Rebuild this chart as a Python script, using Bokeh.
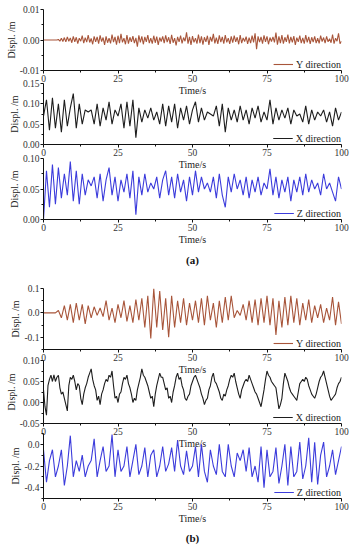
from bokeh.plotting import figure
from bokeh.layouts import column
from bokeh.models import Range1d, FixedTicker, PrintfTickFormatter, Legend, LegendItem
from bokeh.embed import file_html
from bokeh.resources import INLINE

# sample times (s), 1 s step
TIME_S = [0, 1, 2, 3, 4, 5, 6, 7, 8, 9,
          10, 11, 12, 13, 14, 15, 16, 17, 18, 19,
          20, 21, 22, 23, 24, 25, 26, 27, 28, 29,
          30, 31, 32, 33, 34, 35, 36, 37, 38, 39,
          40, 41, 42, 43, 44, 45, 46, 47, 48, 49,
          50, 51, 52, 53, 54, 55, 56, 57, 58, 59,
          60, 61, 62, 63, 64, 65, 66, 67, 68, 69,
          70, 71, 72, 73, 74, 75, 76, 77, 78, 79,
          80, 81, 82, 83, 84, 85, 86, 87, 88, 89,
          90, 91, 92, 93, 94, 95, 96, 97, 98, 99,
          100]

# sample times (s), 0.5 s step
TIME_HALF = [0, 0.5, 1, 1.5, 2, 2.5, 3, 3.5, 4, 4.5,
             5, 5.5, 6, 6.5, 7, 7.5, 8, 8.5, 9, 9.5,
             10, 10.5, 11, 11.5, 12, 12.5, 13, 13.5, 14, 14.5,
             15, 15.5, 16, 16.5, 17, 17.5, 18, 18.5, 19, 19.5,
             20, 20.5, 21, 21.5, 22, 22.5, 23, 23.5, 24, 24.5,
             25, 25.5, 26, 26.5, 27, 27.5, 28, 28.5, 29, 29.5,
             30, 30.5, 31, 31.5, 32, 32.5, 33, 33.5, 34, 34.5,
             35, 35.5, 36, 36.5, 37, 37.5, 38, 38.5, 39, 39.5,
             40, 40.5, 41, 41.5, 42, 42.5, 43, 43.5, 44, 44.5,
             45, 45.5, 46, 46.5, 47, 47.5, 48, 48.5, 49, 49.5,
             50, 50.5, 51, 51.5, 52, 52.5, 53, 53.5, 54, 54.5,
             55, 55.5, 56, 56.5, 57, 57.5, 58, 58.5, 59, 59.5,
             60, 60.5, 61, 61.5, 62, 62.5, 63, 63.5, 64, 64.5,
             65, 65.5, 66, 66.5, 67, 67.5, 68, 68.5, 69, 69.5,
             70, 70.5, 71, 71.5, 72, 72.5, 73, 73.5, 74, 74.5,
             75, 75.5, 76, 76.5, 77, 77.5, 78, 78.5, 79, 79.5,
             80, 80.5, 81, 81.5, 82, 82.5, 83, 83.5, 84, 84.5,
             85, 85.5, 86, 86.5, 87, 87.5, 88, 88.5, 89, 89.5,
             90, 90.5, 91, 91.5, 92, 92.5, 93, 93.5, 94, 94.5,
             95, 95.5, 96, 96.5, 97, 97.5, 98, 98.5, 99, 99.5,
             100]

# (a) displacements (m)
A_Y = [0, 0, 0, 0, 0, 0, 0, 0, 0, 0,
       0.0002, -0.0004, 0.0006, -0.0005, 0.0008, -0.0006, 0.0010, -0.0004, 0.0007, -0.0009,
       0.0012, -0.0006, 0.0009, -0.0012, 0.0006, -0.0004, 0.0014, -0.0010, 0.0008, -0.0007,
       0.0016, -0.0008, 0.0005, -0.0014, 0.0012, -0.0006, 0.0010, -0.0012, 0.0015, -0.0005,
       0.0008, -0.0016, 0.0012, -0.0009, 0.0006, -0.0011, 0.0018, -0.0007, 0.0010, -0.0015,
       0.0014, -0.0010, 0.0020, -0.0008, 0.0006, -0.0014, 0.0016, -0.0012, 0.0009, -0.0006,
       0.0013, -0.0010, 0.0007, -0.0022, 0.0015, -0.0008, 0.0012, -0.0014, 0.0010, -0.0006,
       0.0016, -0.0010, 0.0006, -0.0012, 0.0014, -0.0009, 0.0011, -0.0016, 0.0008, -0.0005,
       0.0012, -0.0010, 0.0015, -0.0007, 0.0009, -0.0013, 0.0017, -0.0009, 0.0006, -0.0018,
       0.0010, -0.0006, 0.0014, -0.0011, 0.0008, -0.0004, 0.0025, -0.0012, 0.0010, -0.0016,
       0.0013, -0.0008, 0.0006, -0.0012, 0.0018, -0.0010, 0.0012, -0.0015, 0.0009, -0.0006,
       0.0014, -0.0016, 0.0010, -0.0005, 0.0020, -0.0011, 0.0008, -0.0013, 0.0015, -0.0007,
       0.0010, -0.0012, 0.0016, -0.0008, 0.0006, -0.0013, 0.0012, -0.0009, 0.0014, -0.0006,
       0.0009, -0.0014, 0.0016, -0.0010, 0.0007, -0.0005, 0.0011, -0.0013, 0.0008, -0.0010,
       0.0014, -0.0008, 0.0022, -0.0030, 0.0012, -0.0007, 0.0010, -0.0012, 0.0015, -0.0006,
       0.0012, -0.0014, 0.0008, -0.0005, 0.0010, -0.0008, 0.0024, -0.0015, 0.0012, -0.0010,
       0.0016, -0.0012, 0.0009, -0.0006, 0.0018, -0.0011, 0.0010, -0.0008, 0.0013, -0.0016,
       0.0008, -0.0006, 0.0014, -0.0010, 0.0007, -0.0012, 0.0016, -0.0008, 0.0010, -0.0013,
       0.0009, -0.0007, 0.0012, -0.0010, 0.0006, -0.0011, 0.0014, -0.0005, 0.0008, -0.0010,
       0.0012, -0.0006, 0.0004, -0.0009, 0.0018, -0.0012, 0.0006, -0.0004, 0.0022, -0.0012,
       -0.0004]

A_X = [0.070, 0.110, 0.035, 0.115, 0.040, 0.100, 0.030, 0.110, 0.045, 0.090,
       0.125, 0.040, 0.100, 0.050, 0.085, 0.080, 0.085, 0.050, 0.100, 0.045,
       0.090, 0.060, 0.105, 0.050, 0.085, 0.070, 0.100, 0.040, 0.105, 0.045,
       0.110, 0.017, 0.090, 0.055, 0.085, 0.065, 0.090, 0.060, 0.080, 0.050,
       0.100, 0.045, 0.095, 0.055, 0.100, 0.040, 0.090, 0.060, 0.095, 0.050,
       0.085, 0.105, 0.055, 0.090, 0.060, 0.080, 0.075, 0.070, 0.095, 0.045,
       0.100, 0.030, 0.090, 0.060, 0.085, 0.055, 0.095, 0.060, 0.085, 0.050,
       0.090, 0.065, 0.095, 0.055, 0.080, 0.060, 0.110, 0.050, 0.090, 0.060,
       0.085, 0.065, 0.090, 0.050, 0.085, 0.070, 0.075, 0.055, 0.095, 0.050,
       0.085, 0.060, 0.080, 0.070, 0.085, 0.055, 0.080, 0.045, 0.090, 0.060,
       0.080]

A_Z = [0.000, 0.080, 0.020, 0.090, 0.025, 0.085, 0.035, 0.075, 0.040, 0.095,
       0.030, 0.080, 0.025, 0.075, 0.040, 0.065, 0.055, 0.070, 0.035, 0.075,
       0.030, 0.065, 0.085, 0.040, 0.070, 0.030, 0.065, 0.045, 0.075, 0.035,
       0.080, 0.008, 0.070, 0.040, 0.075, 0.045, 0.060, 0.050, 0.070, 0.035,
       0.065, 0.080, 0.040, 0.070, 0.035, 0.075, 0.045, 0.065, 0.030, 0.070,
       0.040, 0.080, 0.045, 0.070, 0.050, 0.060, 0.045, 0.070, 0.035, 0.075,
       0.040, 0.020, 0.070, 0.045, 0.075, 0.050, 0.065, 0.040, 0.070, 0.035,
       0.065, 0.045, 0.070, 0.040, 0.060, 0.050, 0.083, 0.040, 0.070, 0.035,
       0.065, 0.045, 0.070, 0.030, 0.065, 0.045, 0.070, 0.040, 0.075, 0.045,
       0.065, 0.050, 0.060, 0.040, 0.075, 0.050, 0.060, 0.045, 0.030, 0.070,
       0.050]

# (b) displacements (m)
B_Y = [0, 0, 0, 0, 0, 0.010, -0.020, 0.030, -0.030, 0.035,
       -0.040, 0.040, -0.030, 0.035, -0.045, 0.030, -0.020, 0.025, -0.010, 0.020,
       -0.015, 0.050, -0.030, 0.020, -0.040, 0.035, -0.020, 0.050, -0.035, 0.030,
       -0.040, 0.055, -0.030, 0.060, -0.060, 0.070, -0.105, 0.100, -0.060, 0.090,
       -0.070, 0.060, -0.100, 0.070, -0.060, 0.050, -0.040, 0.060, -0.050, 0.040,
       -0.030, 0.050, -0.040, 0.060, -0.050, 0.070, -0.030, 0.040, -0.060, 0.050,
       -0.040, 0.065, -0.030, 0.070, -0.020, 0.010, -0.010, 0.035, -0.030, 0.050,
       -0.040, 0.055, -0.050, 0.060, -0.040, 0.070, -0.050, 0.060, -0.090, 0.050,
       -0.060, 0.065, -0.050, 0.070, -0.040, 0.060, -0.050, 0.040, -0.030, 0.055,
       -0.040, 0.030, -0.020, 0.035, -0.040, 0.020, -0.030, 0.065, -0.050, 0.045,
       -0.045]

# (b) X record, sampled every 0.5 s
B_X = [0.030, -0.010, -0.030, 0.040, 0.055, 0.065, 0.050, 0.066, 0.050, 0.060,
       0.065, 0.035, 0.020, 0.025, 0.010, -0.005, -0.020, 0.040, 0.060, 0.055,
       0.065, 0.050, 0.030, 0.045, 0.040, 0.010, -0.005, 0.020, 0.035, 0.045,
       0.060, 0.070, 0.080, 0.055, 0.040, 0.030, 0.005, 0.015, -0.005, 0.020,
       0.030, 0.045, 0.055, 0.050, 0.065, 0.060, 0.075, 0.040, 0.010, 0.015,
       0.000, 0.020, 0.025, 0.045, 0.060, 0.055, 0.065, 0.045, 0.035, 0.020,
       0.000, 0.010, 0.005, 0.030, 0.045, 0.060, 0.080, 0.065, 0.060, 0.050,
       0.040, 0.025, 0.010, 0.015, -0.010, 0.020, 0.040, 0.055, 0.070, 0.060,
       0.060, 0.045, 0.030, 0.035, 0.010, 0.015, 0.000, 0.025, 0.040, 0.060,
       0.070, 0.055, 0.060, 0.040, 0.030, 0.010, 0.005, 0.015, 0.020, 0.040,
       0.050, 0.060, 0.065, 0.055, 0.045, 0.035, 0.020, 0.010, -0.005, 0.005,
       0.010, 0.030, 0.040, 0.060, 0.070, 0.050, 0.045, 0.035, 0.025, 0.010,
       0.005, 0.020, 0.015, 0.030, 0.040, 0.055, 0.065, 0.060, 0.070, 0.050,
       0.035, 0.020, 0.010, 0.030, 0.040, 0.050, 0.055, 0.050, 0.065, 0.055,
       0.045, 0.035, 0.025, 0.020, 0.010, 0.000, -0.010, 0.010, 0.030, 0.055,
       0.075, 0.065, 0.060, 0.050, 0.045, 0.040, 0.035, 0.010, -0.015, -0.005,
       0.010, 0.045, 0.070, 0.060, 0.050, 0.035, 0.025, 0.020, 0.015, 0.010,
       0.005, 0.025, 0.045, 0.050, 0.055, 0.050, 0.060, 0.055, 0.040, 0.030,
       0.020, 0.015, 0.010, 0.020, 0.035, 0.050, 0.060, 0.065, 0.075, 0.060,
       0.045, 0.030, 0.015, 0.005, 0.010, 0.015, 0.020, 0.035, 0.045, 0.050,
       0.060]

B_Z = [-0.05, -0.35, -0.15, -0.05, -0.30, -0.20, -0.05, -0.38, -0.20, 0.08,
       -0.30, -0.15, -0.25, -0.10, -0.30, -0.20, -0.15, 0.05, -0.30, -0.15,
       -0.02, -0.25, -0.20, 0.09, -0.30, -0.05, -0.25, -0.20, -0.02, -0.30,
       -0.15, 0.00, -0.28, -0.20, -0.03, -0.30, -0.10, -0.05, -0.30, -0.20,
       -0.02, -0.25, -0.18, -0.03, -0.25, 0.04, -0.20, -0.28, -0.06, -0.25,
       -0.20, -0.02, -0.30, 0.00, -0.25, -0.35, -0.05, -0.20, -0.28, 0.00,
       -0.25, -0.30, 0.00, -0.20, -0.30, -0.08, -0.15, -0.05, -0.25, -0.03,
       -0.30, -0.20, -0.35, -0.02, -0.40, -0.05, -0.30, -0.25, -0.03, -0.36,
       -0.20, 0.00, -0.38, -0.02, -0.30, -0.25, 0.02, -0.32, -0.20, 0.06,
       -0.35, 0.02, -0.37, -0.10, 0.02, -0.30, -0.20, -0.05, -0.28, -0.15,
       -0.02]

X_TICKS = [0, 25, 50, 75, 100]
X_MINOR = [12.5, 37.5, 62.5, 87.5]

COL_Y = "#a8553a"
COL_X = "#1e1e1e"
COL_Z = "#3c3cdc"
SERIF = "Liberation Serif"


def panel(t, y, color, label, yr, yticks, yminor, fmt, height, top, bottom, mtop,
          title=None, title_standoff=0):
    kw = {}
    if title is not None:
        kw = dict(title=title, title_location="below")
    p = figure(width=352, height=height, x_range=Range1d(0, 100), y_range=Range1d(yr[0], yr[1]),
               output_backend="svg", toolbar_location=None,
               min_border_left=43, min_border_right=11, min_border_top=top, min_border_bottom=bottom,
               margin=(mtop, 0, 0, 0), **kw)
    p.background_fill_color = None
    p.border_fill_color = None
    p.outline_line_color = None
    p.grid.visible = False
    r = p.line(t, y, line_color=color, line_width=1.1)

    p.xaxis.ticker = FixedTicker(ticks=X_TICKS, minor_ticks=X_MINOR)
    p.yaxis.ticker = FixedTicker(ticks=yticks, minor_ticks=yminor)
    p.yaxis.formatter = PrintfTickFormatter(format=fmt)
    p.xaxis.axis_label = "Time/s"
    p.yaxis.axis_label = "Displ. /m"
    for ax in (p.xaxis[0], p.yaxis[0]):
        ax.axis_line_color = "#111111"
        ax.major_tick_line_color = "#111111"
        ax.minor_tick_line_color = "#111111"
        ax.major_tick_out = 3
        ax.major_tick_in = 0
        ax.minor_tick_out = 2
        ax.minor_tick_in = 0
        ax.major_label_standoff = 1
        ax.axis_label_standoff = 0
        ax.major_label_text_font = SERIF
        ax.major_label_text_font_size = "9.5px"
        ax.major_label_text_color = "#333333"
        ax.axis_label_text_font = SERIF
        ax.axis_label_text_font_size = "10px"
        ax.axis_label_text_font_style = "normal"
        ax.axis_label_text_color = "#222222"

    leg = Legend(items=[LegendItem(label=label, renderers=[r])], location="bottom_right",
                 background_fill_alpha=0, border_line_color=None,
                 label_text_font=SERIF, label_text_font_size="10px", label_text_color="#222222",
                 glyph_width=20, glyph_height=12, label_height=12, label_standoff=3,
                 padding=4, margin=0, spacing=0)
    p.add_layout(leg)

    if title is not None:
        p.title.align = "center"
        p.title.text_font = SERIF
        p.title.text_font_size = "11px"
        p.title.text_font_style = "bold"
        p.title.text_color = "#111111"
        p.title.standoff = title_standoff
    return p


p1 = panel(TIME_HALF, A_Y, COL_Y, "Y direction", (-0.01, 0.01), [-0.01, 0.0, 0.01], [-0.005, 0.005],
           "%.2f", 100, 9, 30, 0)
p2 = panel(TIME_S, A_X, COL_X, "X direction", (0.0, 0.15), [0.0, 0.05, 0.10, 0.15], [0.025, 0.075, 0.125],
           "%.2f", 97, 6, 30, -23)
p3 = panel(TIME_S, A_Z, COL_Z, "Z direction", (0.0, 0.10), [0.0, 0.05, 0.10], [0.025, 0.075],
           "%.2f", 119, 6, 52, -22, title="(a)", title_standoff=8)
p4 = panel(TIME_S, B_Y, COL_Y, "Y direction", (-0.15, 0.10), [-0.1, 0.0, 0.1], [-0.15, -0.05, 0.05],
           "%.1f", 97, 6, 30, 11)
p5 = panel(TIME_HALF, B_X, COL_X, "X direction", (-0.05, 0.10), [-0.05, 0.0, 0.05, 0.10], [-0.025, 0.025, 0.075],
           "%.2f", 99, 6, 30, -25)
p6 = panel(TIME_S, B_Z, COL_Z, "Z direction", (-0.5, 0.1), [-0.4, -0.2, 0.0], [-0.5, -0.3, -0.1, 0.1],
           "%.1f", 122, 6, 51, -26, title="(b)", title_standoff=7)

layout = column(p1, p2, p3, p4, p5, p6, spacing=0)

with open("out.html", "w") as f:
    f.write(file_html(layout, INLINE))
